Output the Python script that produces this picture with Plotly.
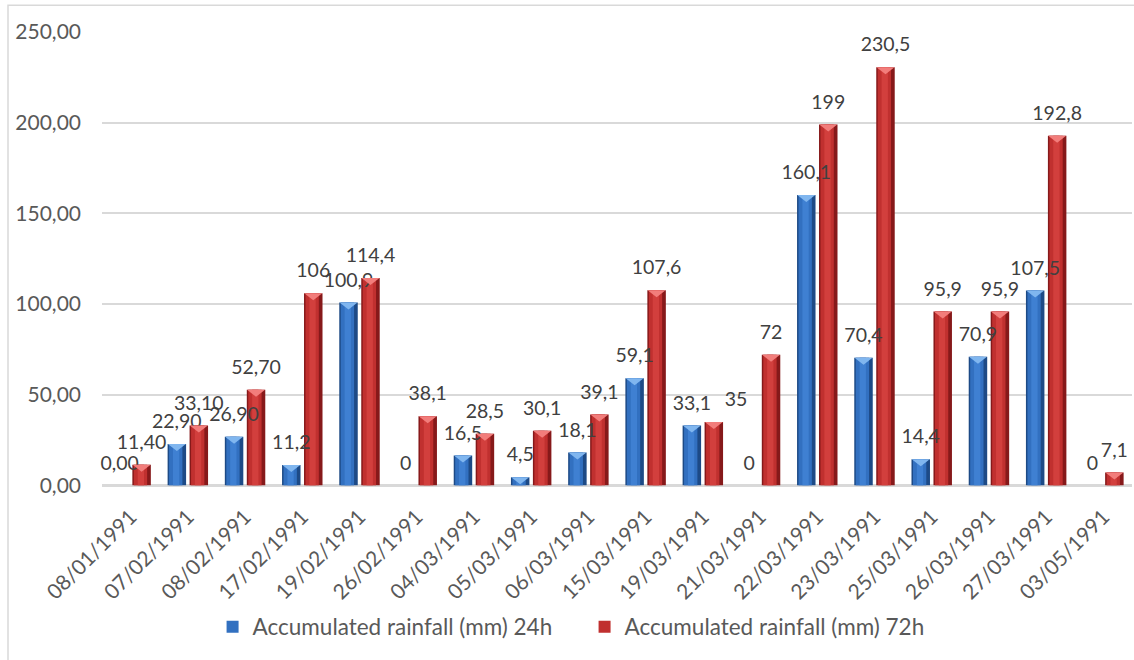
import numpy as np
import plotly.graph_objects as go

# Event dates (categories)
dates = ["08/01/1991", "07/02/1991", "08/02/1991", "17/02/1991", "19/02/1991",
         "26/02/1991", "04/03/1991", "05/03/1991", "06/03/1991", "15/03/1991",
         "19/03/1991", "21/03/1991", "22/03/1991", "23/03/1991", "25/03/1991",
         "26/03/1991", "27/03/1991", "03/05/1991"]

# Accumulated rainfall (mm)
rain_24h = [0.00, 22.90, 26.90, 11.2, 100.9, 0, 16.5, 4.5, 18.1, 59.1,
            33.1, 0, 160.1, 70.4, 14.4, 70.9, 107.5, 0]
rain_72h = [11.40, 33.10, 52.70, 106, 114.4, 38.1, 28.5, 30.1, 39.1, 107.6,
            35, 72, 199, 230.5, 95.9, 95.9, 192.8, 7.1]

# Decimal places used in each data label
dec_24h = [2, 2, 2, 1, 1, 0, 1, 1, 1, 1, 1, 0, 1, 1, 1, 1, 1, 0]
dec_72h = [2, 2, 2, 0, 1, 1, 1, 1, 1, 1, 0, 0, 0, 1, 1, 1, 1, 1]

y_ticks = [0, 50, 100, 150, 200, 250]

FONT = "Lato"
TXT = "#595959"
LBL = "#404040"
GRID = "#d9d9d9"

W, H = 1134, 660
ML, MR, MT, MB = 102, 2, 32, 170


def fmt(v, d):
    return f"{v:.{d}f}".replace(".", ",")


idx = np.arange(len(dates))
half_sep = 0.192      # distance of each bar centre from the category centre
bw = 0.323            # bar width (category units)

# label placement: the "35" label sits to the right of its bar
pos_24h = ["top center"] * len(dates)
pos_72h = ["top center"] * len(dates)
pos_72h[10] = "top right"

series = [
    dict(name="Accumulated rainfall (mm) 24h", vals=rain_24h, dec=dec_24h,
         pos=idx - half_sep, tpos=pos_24h,
         dark="#1d4a86", main="#3270c0", light="#3f80d2", top="#80b6ef"),
    dict(name="Accumulated rainfall (mm) 72h", vals=rain_72h, dec=dec_72h,
         pos=idx + half_sep, tpos=pos_72h,
         dark="#86191a", main="#c0302f", light="#d23f3d", top="#f27d7b"),
]

fig = go.Figure()

for s in series:
    v = np.array(s["vals"], dtype=float)
    # dark body (edges)
    fig.add_trace(go.Bar(x=s["pos"], y=v, width=bw, marker_color=s["dark"],
                         marker_line_width=0, showlegend=False, hoverinfo="skip"))
    # main face
    fig.add_trace(go.Bar(x=s["pos"] - bw * 0.06, y=v, width=bw * 0.72,
                         marker_color=s["main"], marker_line_width=0,
                         name=s["name"], showlegend=True, legendgroup=s["name"]))
    # highlight strip
    fig.add_trace(go.Bar(x=s["pos"] - bw * 0.04, y=v, width=bw * 0.34,
                         marker_color=s["light"], marker_line_width=0,
                         showlegend=False, hoverinfo="skip"))
    # value labels
    fig.add_trace(go.Scatter(
        x=s["pos"], y=v, mode="markers+text",
        marker=dict(size=16, opacity=0),
        text=[fmt(a, d) for a, d in zip(s["vals"], s["dec"])],
        textposition=s["tpos"],
        textfont=dict(family=FONT, size=19.5, color=LBL),
        showlegend=False, hoverinfo="skip", cliponaxis=False))

# bevelled top of each bar
shapes = []
for s in series:
    for xp, val in zip(s["pos"], s["vals"]):
        if val <= 0:
            continue
        shapes.append(dict(
            type="path", xref="x", yref="y", xsizemode="pixel", ysizemode="pixel",
            xanchor=float(xp), yanchor=float(val),
            path="M -9,0 L 9,0 L 0,-7 Z",
            fillcolor=s["top"], line=dict(width=0), layer="above"))

# outer chart frame
shapes.append(dict(type="rect", xref="paper", yref="paper",
                   x0=-(ML - 8) / (W - ML - MR), x1=1 + 10 / (W - ML - MR),
                   y0=-(MB + 10) / (H - MT - MB), y1=1 + (MT - 5) / (H - MT - MB),
                   line=dict(color=GRID, width=1.5), fillcolor="rgba(0,0,0,0)",
                   layer="below"))

fig.update_layout(
    width=W, height=H,
    margin=dict(l=ML, r=MR, t=MT, b=MB),
    paper_bgcolor="white", plot_bgcolor="white",
    barmode="overlay",
    separators=",.",
    font=dict(family=FONT, size=21, color=TXT),
    shapes=shapes,
    showlegend=True,
    legend=dict(orientation="h", xref="container", yref="container",
                x=0.5155, y=0.05, xanchor="center", yanchor="middle",
                font=dict(family=FONT, size=22.5, color=TXT),
                itemwidth=30, entrywidth=327, traceorder="normal"),
)

fig.update_xaxes(
    range=[-0.5, len(dates) - 0.5],
    tickmode="array", tickvals=idx, ticktext=dates, tickangle=-45,
    showgrid=False, zeroline=False, showline=False, ticks="",
    ticklabelstandoff=14,
    tickfont=dict(family=FONT, size=21, color=TXT),
)

fig.update_yaxes(
    range=[0, 250], tickmode="array", tickvals=y_ticks, tickformat=".2f",
    showgrid=True, gridcolor=GRID, gridwidth=1.5,
    zeroline=True, zerolinecolor=GRID, zerolinewidth=3,
    showline=False, ticks="", ticklabelstandoff=20,
    tickfont=dict(family=FONT, size=21, color=TXT),
)

fig.write_html("out.html")
